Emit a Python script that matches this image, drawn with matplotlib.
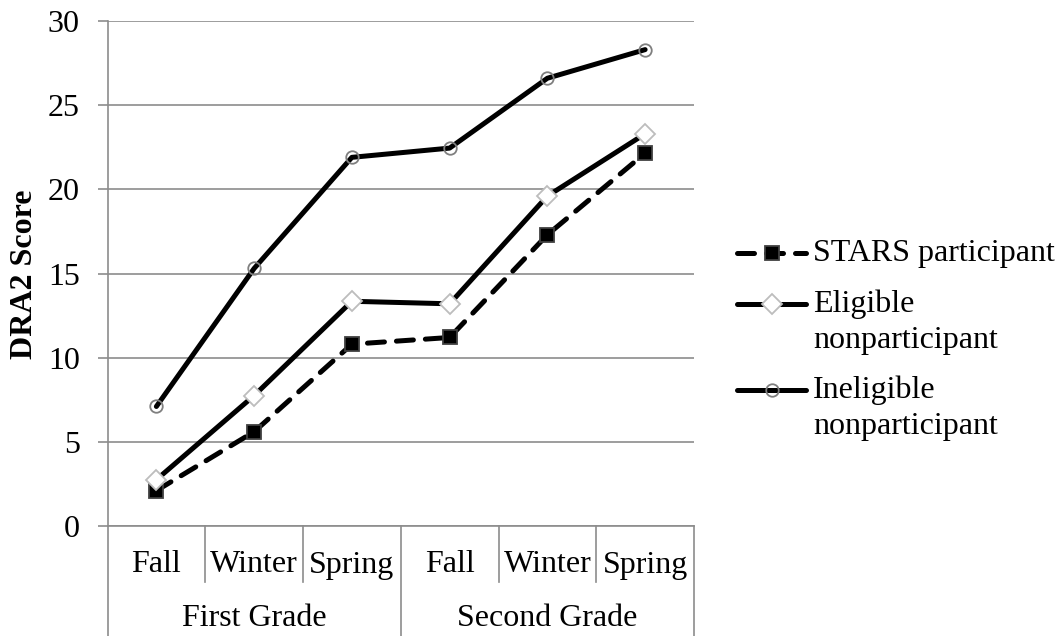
import matplotlib.pyplot as plt
from matplotlib.lines import Line2D
import matplotlib.transforms as mtransforms

plt.rcParams['font.family'] = ['Liberation Serif', 'DejaVu Serif']

seasons = ['Fall', 'Winter', 'Spring', 'Fall', 'Winter', 'Spring']
grades = ['First Grade', 'Second Grade']
stars = [2.1, 5.6, 10.8, 11.2, 17.3, 22.15]
eligible = [2.75, 7.75, 13.35, 13.2, 19.6, 23.3]
ineligible = [7.1, 15.3, 21.9, 22.45, 26.6, 28.3]
series_names = ['STARS participant', 'Eligible\nnonparticipant', 'Ineligible\nnonparticipant']

FS = 23
grid_col = '#8c8c8c'
W, H = 1064, 636

styles = [
    dict(color='black', lw=3.6, ls=(0, (3.4, 2.4)), marker='s', ms=9.5,
         mfc='black', mec='#404040', mew=1.3),
    dict(color='black', lw=3.6, ls='-', marker='D', ms=10,
         mfc='white', mec='#bdbdbd', mew=1.3),
    dict(color='black', lw=3.6, ls='-', marker='o', ms=9,
         mfc='none', mec='#7f7f7f', mew=1.3),
]

fig = plt.figure(figsize=(W / 100, H / 100), dpi=100)
ax = fig.add_axes([107.5 / W, 1 - 526 / H, (694 - 107.5) / W, (526 - 21) / H])

x = list(range(len(seasons)))
for vals, st in zip([stars, eligible, ineligible], styles):
    ax.plot(x, vals, **st, solid_capstyle='round', dash_capstyle='round', zorder=3)

ax.set_xlim(-0.5, 5.5)
ax.set_ylim(0, 30)
ax.set_yticks(range(0, 31, 5))
ax.yaxis.grid(True, color=grid_col, lw=1.2)
ax.set_axisbelow(True)
ax.tick_params(axis='y', labelsize=FS, length=7, width=1.2, color=grid_col, pad=13)
ax.set_xticks([])
for s in ['top', 'right']:
    ax.spines[s].set_visible(False)
for s in ['left', 'bottom']:
    ax.spines[s].set_color(grid_col)
    ax.spines[s].set_linewidth(1.2)

# two-level category axis
ah = 526 - 21
trans = mtransforms.blended_transform_factory(ax.transData, ax.transAxes)
for i, lab in enumerate(seasons):
    ax.text(i, -(565 - 526) / ah, lab, transform=trans, ha='center', va='center', fontsize=FS)
for j, g in enumerate(grades):
    ax.text(3 * j + 1, -(619 - 526) / ah, g, transform=trans, ha='center', va='center', fontsize=FS)
for b in [0.5, 1.5, 3.5, 4.5]:
    ax.add_line(Line2D([b, b], [0, -(582 - 526) / ah], transform=trans, color=grid_col,
                       lw=1.2, clip_on=False))
for b in [-0.5, 2.5, 5.5]:
    ax.add_line(Line2D([b, b], [0, -(H - 526 + 5) / ah], transform=trans, color=grid_col,
                       lw=1.2, clip_on=False))

fig.text(25 / W, 0.569, 'DRA2 Score', rotation=90, ha='center', va='center',
         fontsize=FS, fontweight='bold')

# legend, handle aligned with the first line of each label
leg_y = [253, 304, 390]
for name, st, yp in zip(series_names, styles, leg_y):
    yf = 1 - yp / H
    fig.add_artist(Line2D([737 / W, 806 / W], [yf, yf], transform=fig.transFigure,
                          color=st['color'], lw=st['lw'], ls=st['ls'],
                          solid_capstyle='round', dash_capstyle='round'))
    fig.add_artist(Line2D([771.5 / W], [yf], transform=fig.transFigure, ls='none',
                          marker=st['marker'], ms=st['ms'], mfc=st['mfc'],
                          mec=st['mec'], mew=st['mew']))
    fig.text(813 / W, yf, name, ha='left', va='top', fontsize=FS,
             linespacing=1.3, transform=fig.transFigure)

# shift text so first-line centers sit on the handles
fig.canvas.draw()
for t in fig.texts[1:]:
    bb = t.get_window_extent()
    nlines = t.get_text().count('\n') + 1
    line_h = bb.height / (1 + (nlines - 1) * 1.3)
    x0, y0 = t.get_position()
    t.set_position((x0, y0 + (line_h / 2) / fig.bbox.height))

fig.savefig('out.png', dpi=100)
